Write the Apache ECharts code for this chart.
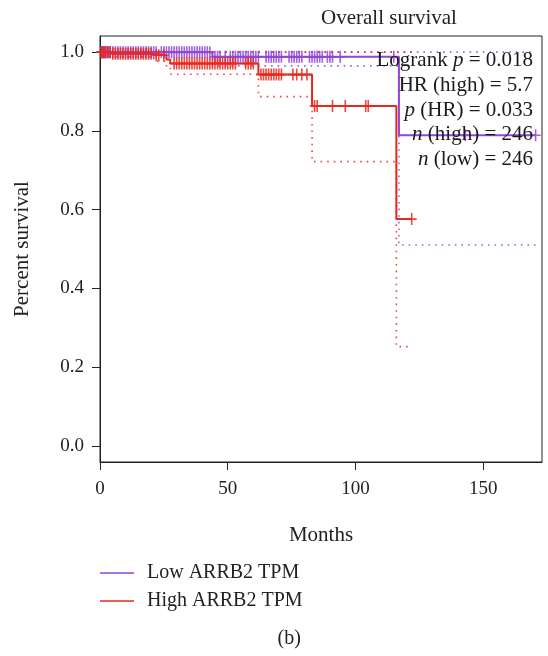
<!DOCTYPE html>
<html>
<head>
<meta charset="utf-8">
<script src="https://cdn.jsdelivr.net/npm/echarts@6/dist/echarts.min.js"></script>
<style>html,body{margin:0;padding:0;background:#fff;}#c{width:548px;height:656px;}</style>
</head>
<body>
<div id="c"></div>
<script>
// ---- Data ----
const chartTitle = 'Overall survival';
const xName = 'Months';
const yName = 'Percent survival';
const panelLabel = '(b)';
const seriesNames = ['Low ARRB2 TPM', 'High ARRB2 TPM'];
const xTicks = [0, 50, 100, 150];
const yTicks = [0, 0.2, 0.4, 0.6, 0.8, 1.0];

// Low group KM curve (step points: time, survival)
const lowTimes = [0, 44, 117, 170.5];
const lowSurv  = [1.0, 0.988, 0.789, 0.789];
const lowLowerCI = [1.0, 0.965, 0.51, 0.51];
const lowUpperCI = [1.0, 1.0, 1.0, 1.0];
const lowCensor = [0.5,1,1.5,2,2.5,3,3.5,4,5,6,7,8,9,10,11,12,13,14,15,16,17,18,19,20,21,22,24,25,26,27,28,29,30,31,32,33,34,35,36,37,38,39,40,41,42,43,45,46,47,49,51,52,53,54,55,56,57,58,59,60,61,62,65,66,67,68,69,70,71,74,75,76,77,78,79,82,83,84,85,86,87,89,90,91,94,115,143,170.5];

// High group KM curve
const highTimes = [0, 5, 21, 26, 27.5, 62, 83, 116, 122];
const highSurv  = [1.0, 0.996, 0.992, 0.981, 0.971, 0.943, 0.863, 0.576, 0.576];
const highLowerCI = [1.0, 0.988, 0.977, 0.962, 0.944, 0.887, 0.722, 0.252, 0.252];
const highUpperCI = [1.0, 1.0, 1.0, 1.0, 1.0, 1.0, 1.0, 1.0, 1.0];
const highCensor = [0.5,1,1.5,2,3,4,5,6,7,8,9,10,11,12,13,14,15,16,17,18,19,20,22,23,25,29,30,31,32,33,34,35,36,37,38,39,40,41,42,43,44,45,46,47,48,49,50,51,52,53,57,58,59,60,63,64,65,66,67,68,69,70,71,75.5,77,79,81,84,85,91,96,104,105,122];

// Statistics text
const statLabels = ['Logrank p', 'HR (high)', 'p (HR)', 'n (high)', 'n (low)'];
const statValues = ['0.018', '5.7', '0.033', '246', '246'];

// ---- Build ----
const FONT = 'Liberation Serif';
const PURPLE = '#9046d4';
const RED = '#e8281e';

function pairs(t, v) { return t.map((x, i) => [x, v[i]]); }
function survAt(t, s, x) { let k = 0; for (let i = 0; i < t.length; i++) if (t[i] <= x) k = i; return s[k]; }
const plusSym = 'path://M4.2,0H5.8V12H4.2ZM0,5.2H10V6.8H0Z';

function kmSeries(name, t, s, lo, hi, cens, color) {
  return [
    { name: name + ' lo', type: 'line', step: 'end', data: pairs(t, lo), symbol: 'none', silent: true,
      lineStyle: { color: color, width: 1.6, type: [1.6, 5], opacity: 0.85 }, z: 2 },
    { name: name + ' hi', type: 'line', step: 'end', data: pairs(t, hi), symbol: 'none', silent: true,
      lineStyle: { color: color, width: 1.6, type: [1.6, 5], opacity: 0.85 }, z: 2 },
    { name: name, type: 'line', step: 'end', data: pairs(t, s), symbol: 'none', color: color,
      lineStyle: { color: color, width: 2 }, z: 3 },
    { name: name + ' cens', type: 'scatter', data: cens.map(x => [x, survAt(t, s, x)]), symbol: plusSym,
      symbolSize: [10, 12], itemStyle: { color: color, opacity: 0.85 }, z: 4, silent: true }
  ];
}

const statGraphics = statLabels.map((lab, i) => {
  const parts = lab.split(' ');
  let rich;
  if (parts[0] === 'p' || parts[0] === 'n') {
    rich = '{i|' + parts[0] + '}{r| ' + parts.slice(1).join(' ') + ' = ' + statValues[i] + '}';
  } else if (parts[parts.length - 1] === 'p') {
    rich = '{r|' + parts.slice(0, -1).join(' ') + ' }{i|p}{r| = ' + statValues[i] + '}';
  } else {
    rich = '{r|' + lab + ' = ' + statValues[i] + '}';
  }
  return {
    type: 'text', right: 548 - 533, top: 50 + i * 24.8, z: 10,
    style: {
      text: rich, textAlign: 'right', fill: '#1a1a1a',
      rich: {
        r: { fontFamily: FONT, fontSize: 21, fill: '#1a1a1a' },
        i: { fontFamily: FONT, fontSize: 21, fontStyle: 'italic', fill: '#1a1a1a' }
      }
    }
  };
});

const chart = echarts.init(document.getElementById('c'), null, { renderer: 'canvas' });
chart.setOption({
  animation: false,
  backgroundColor: '#fff',
  textStyle: { fontFamily: FONT },
  grid: { left: 100, right: 6, top: 36, bottom: 194, show: true, borderColor: '#222', borderWidth: 1, containLabel: false, outerBoundsMode: 'none' },
  xAxis: {
    type: 'value', min: 0, max: 173, interval: 50,
    axisLine: { show: true, onZero: false, lineStyle: { color: '#222', width: 1 } },
    axisTick: { show: true, inside: false, length: 8, lineStyle: { color: '#222' }, customValues: xTicks },
    axisLabel: { fontFamily: FONT, fontSize: 19, color: '#222', margin: 18, customValues: xTicks },
    splitLine: { show: false },
    name: xName, nameLocation: 'middle', nameGap: 63,
    nameTextStyle: { fontFamily: FONT, fontSize: 21, color: '#222' }
  },
  yAxis: {
    type: 'value', min: -0.041, max: 1.041,
    axisLine: { show: true, onZero: false, lineStyle: { color: '#222', width: 1 } },
    axisTick: { show: true, inside: false, length: 8, lineStyle: { color: '#222' }, customValues: yTicks },
    axisLabel: { fontFamily: FONT, fontSize: 19, color: '#222', margin: 16, customValues: yTicks,
      formatter: v => v.toFixed(1) },
    splitLine: { show: false },
    name: yName, nameLocation: 'middle', nameGap: 67,
    nameTextStyle: { fontFamily: FONT, fontSize: 21, color: '#222' }
  },
  legend: {
    data: seriesNames, orient: 'vertical', left: 100, top: 563, itemWidth: 34, itemHeight: 1.5,
    icon: 'rect', itemGap: 8, padding: 0,
    textStyle: { fontFamily: FONT, fontSize: 20, color: '#222', padding: [0, 0, 0, 8], lineHeight: 20 }
  },
  graphic: [
    { type: 'text', left: 321, top: 8, z: 10,
      style: { text: chartTitle, fontFamily: FONT, fontSize: 21, fill: '#222', textAlign: 'center' } },
    { type: 'text', left: 277.5, top: 629, z: 10,
      style: { text: panelLabel, fontFamily: FONT, fontSize: 20, fill: '#222', textAlign: 'center' } }
  ].concat(statGraphics),
  series: [].concat(
    kmSeries(seriesNames[0], lowTimes, lowSurv, lowLowerCI, lowUpperCI, lowCensor, PURPLE),
    kmSeries(seriesNames[1], highTimes, highSurv, highLowerCI, highUpperCI, highCensor, RED)
  )
});
</script>
</body>
</html>
